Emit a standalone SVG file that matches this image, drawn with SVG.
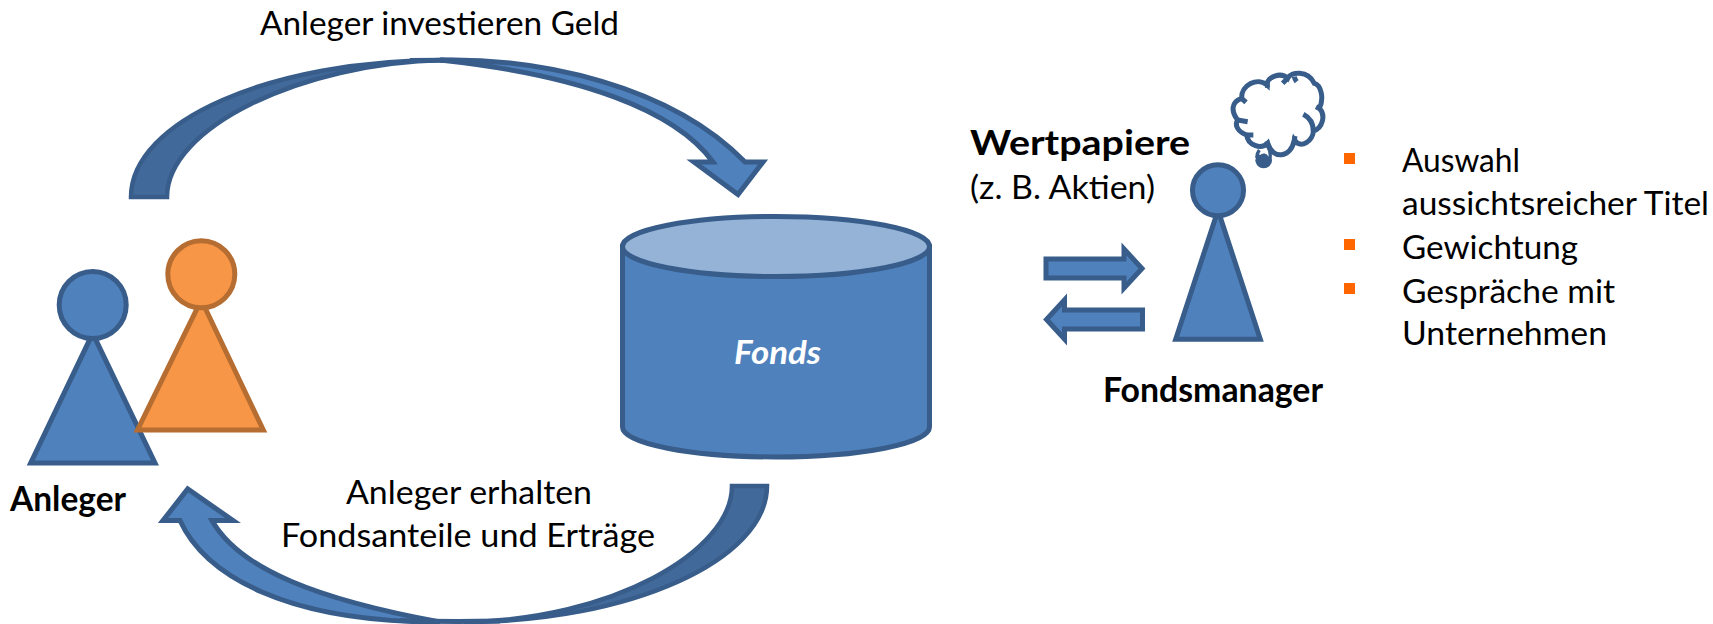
<svg xmlns="http://www.w3.org/2000/svg" width="1713" height="624" viewBox="0 0 1713 624">
<style>
.b{fill:#4F81BD;stroke:#385D8A;stroke-width:5}
.o{fill:#F79646;stroke:#B66D31;stroke-width:5}
.dk{fill:#41699A;stroke:#385D8A;stroke-width:4.5}
.j{fill:none;stroke:#385D8A;stroke-width:5}
.t{font-family:"Lato","Liberation Sans",sans-serif;font-size:33px;fill:#000}
.bd{font-weight:700;font-size:35px}
.sq{fill:#FF6600}
</style>
<rect width="1713" height="624" fill="#fff"/>
<g id="connectors">
<g id="arrow-invest">
<path class="dk" d="M131 197 C131 121,271 60,444 60 C300 63,167 128,167 197 Z"/>
<path class="b" d="M440 60 C540 58,670 85,745 162 H763 L738 194.500 L694 162 H713 C675 110,580 75,440 60 Z"/>
<path class="j" d="M410 60.500 Q440 60,470 60.500"/>
</g>
<g id="arrow-return">
<path class="dk" d="M767 486 C767 560,630 622,464 622 C611 620,732 552,732 486 Z"/>
<path class="b" d="M440 622 C285 622,205 575,180 520.500 H163 L187.700 489 L233 520.500 H212 C240 570,320 600,440 622 Z"/>
<path class="j" d="M400 620.500 Q445 622,500 621"/>
</g>
<path id="arrow-right" class="b" d="M1046 259 H1124 V249 L1142 268.500 L1124 288 V278 H1046 Z"/>
<path id="arrow-left" class="b" d="M1142.500 310 H1064.500 V300 L1046.500 319.500 L1064.500 339 V329 H1142.500 Z"/>
</g>
<g id="anleger-blue">
<path class="b" d="M92.700 333.400 L155 463 H30.700 Z"/>
<circle class="b" cx="92.700" cy="305" r="33.500"/>
</g>
<g id="anleger-orange">
<path class="o" d="M201.300 300 L263.300 430 H137.500 Z"/>
<circle class="o" cx="201.300" cy="274.300" r="33.500"/>
</g>
<text class="t bd" x="10" y="511" textLength="116" lengthAdjust="spacingAndGlyphs">Anleger</text>
<g id="fonds">
<path class="b" d="M622.500 246.500 V427 A153.500 30 0 0 0 929.500 427 V246.500 Z"/>
<ellipse cx="776" cy="246.500" rx="153.500" ry="30" fill="#95B3D7" stroke="#385D8A" stroke-width="5"/>
<text x="734" y="364" textLength="87" lengthAdjust="spacingAndGlyphs" style="font-family:Lato,'Liberation Sans',sans-serif;font-size:33px;font-weight:700;font-style:italic;fill:#fff">Fonds</text>
</g>
<g id="fondsmanager">
<path class="b" d="M1218 210.300 L1260.300 339.200 H1175.700 Z"/>
<circle class="b" cx="1218" cy="190.300" r="25.500"/>
<g id="cloud" transform="translate(1226 65) scale(.33333)" fill="none" stroke="#385D8A" stroke-width="15" stroke-linecap="butt">
<ellipse cx="113" cy="286" rx="25" ry="24" fill="#385D8A" stroke="none"/>
<path d="M100 268 C110 258,125 262,130 274" stroke="#fff" stroke-width="6"/>
<path d="M100 255 C95 262,92 270,92 278 M125 245 C132 255,134 265,132 278" stroke-width="10"/>
<path fill="#fff" d="M47 100 C45 60,95 35,123 60 C122 35,165 20,185 40 C195 20,245 15,265 55 C285 60,295 100,280 130 C300 150,290 190,262 198 C262 225,225 255,205 225 C195 280,140 285,125 235 C105 255,65 240,62 210 C35 200,25 180,35 165 C15 140,15 110,47 100 Z"/>
<path d="M232 148 C255 160,262 180,262 198 M125 68 C124 62,123 60,123 50 M170 55 C175 50,180 45,185 40 M212 50 C208 45,206 42,205 35 M270 125 L282 131 M65 170 L35 165 M82 210 L62 210 M207 213 L205 225 M122 228 L130 248 M47 100 L60 112"/>
</g>
</g>
<text class="t" x="260" y="35" textLength="359" lengthAdjust="spacingAndGlyphs">Anleger investieren Geld</text>
<text class="t" x="346" y="504" textLength="246" lengthAdjust="spacingAndGlyphs">Anleger erhalten</text>
<text class="t" x="281" y="547" textLength="374" lengthAdjust="spacingAndGlyphs">Fondsanteile und Erträge</text>
<text class="t bd" x="970" y="155" textLength="220" lengthAdjust="spacingAndGlyphs">Wertpapiere</text>
<text class="t" x="970" y="199" textLength="185" lengthAdjust="spacingAndGlyphs">(z. B. Aktien)</text>
<text class="t bd" x="1103" y="402" textLength="220" lengthAdjust="spacingAndGlyphs">Fondsmanager</text>
<g id="list">
<rect class="sq" x="1344" y="153" width="11" height="11"/>
<rect class="sq" x="1344" y="239" width="11" height="11"/>
<rect class="sq" x="1344" y="283" width="11" height="11"/>
<text class="t" x="1402" y="172" textLength="118" lengthAdjust="spacingAndGlyphs">Auswahl</text>
<text class="t" x="1402" y="215" textLength="307" lengthAdjust="spacingAndGlyphs">aussichtsreicher Titel</text>
<text class="t" x="1402" y="259" textLength="176" lengthAdjust="spacingAndGlyphs">Gewichtung</text>
<text class="t" x="1402" y="303" textLength="213" lengthAdjust="spacingAndGlyphs">Gespräche mit</text>
<text class="t" x="1402" y="345" textLength="205" lengthAdjust="spacingAndGlyphs">Unternehmen</text>
</g>
</svg>
